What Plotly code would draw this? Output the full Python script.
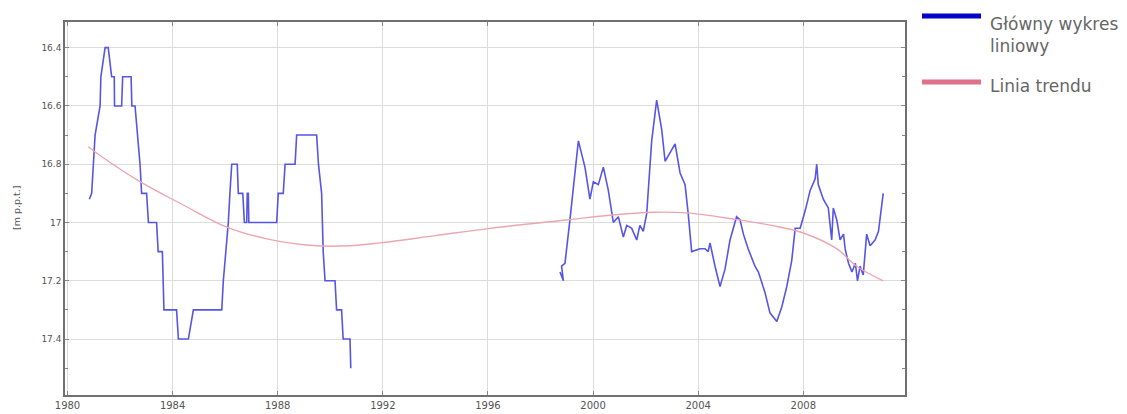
import plotly.graph_objects as go

# ---- data ----
years_a = [1980.83, 1980.92, 1981.05, 1981.24, 1981.27, 1981.43, 1981.55, 1981.68, 1981.78, 1981.79,
           1982.06, 1982.10, 1982.42, 1982.45, 1982.57, 1982.76, 1982.82, 1983.01, 1983.08, 1983.39,
           1983.45, 1983.61, 1983.67, 1984.15, 1984.22, 1984.60, 1984.79, 1985.87, 1985.93, 1986.03,
           1986.12, 1986.18, 1986.25, 1986.46, 1986.50, 1986.67, 1986.73, 1986.82, 1986.84, 1986.88,
           1986.90, 1987.96, 1988.02, 1988.21, 1988.28, 1988.66, 1988.72, 1989.48, 1989.55, 1989.67,
           1989.73, 1989.80, 1990.18, 1990.24, 1990.43, 1990.49, 1990.75, 1990.78]
level_a = [16.92, 16.90, 16.70, 16.60, 16.50, 16.40, 16.40, 16.50, 16.50, 16.60,
           16.60, 16.50, 16.50, 16.60, 16.60, 16.80, 16.90, 16.90, 17.00, 17.00,
           17.10, 17.10, 17.30, 17.30, 17.40, 17.40, 17.30, 17.30, 17.20, 17.10,
           17.00, 16.90, 16.80, 16.80, 16.90, 16.90, 17.00, 17.00, 16.90, 16.90,
           17.00, 17.00, 16.90, 16.90, 16.80, 16.80, 16.70, 16.70, 16.80, 16.90,
           17.10, 17.20, 17.20, 17.30, 17.30, 17.40, 17.40, 17.50]

years_b = [1998.74, 1998.87, 1998.80, 1998.93, 1999.12, 1999.25, 1999.44, 1999.69, 1999.88, 2000.01,
           2000.20, 2000.39, 2000.58, 2000.77, 2000.96, 2001.15, 2001.28, 2001.47, 2001.66, 2001.78,
           2001.91, 2002.04, 2002.23, 2002.42, 2002.61, 2002.74, 2002.93, 2003.12, 2003.31, 2003.50,
           2003.62, 2003.75, 2004.07, 2004.26, 2004.38, 2004.45, 2004.64, 2004.83, 2005.02, 2005.21,
           2005.46, 2005.59, 2005.72, 2005.90, 2006.16, 2006.29, 2006.54, 2006.73, 2006.99, 2007.18,
           2007.37, 2007.56, 2007.69, 2007.88, 2008.07, 2008.26, 2008.45, 2008.51, 2008.57, 2008.76,
           2008.95, 2009.08, 2009.14, 2009.27, 2009.40, 2009.53, 2009.59, 2009.72, 2009.85, 2009.98,
           2010.06, 2010.16, 2010.28, 2010.41, 2010.54, 2010.73, 2010.86, 2010.92, 2011.04]
level_b = [17.17, 17.20, 17.15, 17.14, 16.99, 16.87, 16.72, 16.81, 16.92, 16.86,
           16.87, 16.81, 16.89, 17.00, 16.98, 17.05, 17.01, 17.02, 17.06, 17.01,
           17.03, 16.97, 16.72, 16.58, 16.68, 16.79, 16.76, 16.73, 16.83, 16.87,
           16.97, 17.10, 17.09, 17.09, 17.10, 17.07, 17.15, 17.22, 17.16, 17.06,
           16.98, 16.99, 17.04, 17.09, 17.15, 17.17, 17.24, 17.31, 17.34, 17.29,
           17.22, 17.13, 17.02, 17.02, 16.96, 16.89, 16.85, 16.80, 16.87, 16.92,
           16.95, 17.06, 16.95, 16.99, 17.06, 17.04, 17.09, 17.14, 17.17, 17.14,
           17.20, 17.15, 17.18, 17.04, 17.08, 17.06, 17.03, 16.99, 16.90]

trend_years = [1980.79, 1981.24, 1982.76, 1984.41, 1986.06, 1987.58, 1989.48, 1990.75, 1991.89,
               1994.00, 1996.08, 1999.12, 2000.64, 2002.29, 2003.56, 2005.46, 2006.80, 2008.00,
               2009.27, 2010.03, 2011.04]
trend_level = [16.74, 16.77, 16.86, 16.94, 17.016, 17.056, 17.08, 17.08, 17.07,
               17.045, 17.02, 16.99, 16.975, 16.965, 16.967, 16.99, 17.01, 17.036,
               17.09, 17.15, 17.20]

x_ticks = [1980, 1984, 1988, 1992, 1996, 2000, 2004, 2008]
y_ticks = [16.4, 16.6, 16.8, 17.0, 17.2, 17.4]
y_tick_text = ["16.4", "16.6", "16.8", "17", "17.2", "17.4"]
y_minor = [16.5, 16.7, 16.9, 17.1, 17.3, 17.5]

legend_names = ["Główny wykres<br>liniowy", "Linia trendu"]
y_title = "[m p.p.t.]"

FONT = "DejaVu Sans, Verdana, sans-serif"

# ---- figure ----
fig = go.Figure()
fig.add_trace(go.Scatter(
    x=years_a + [None] + years_b, y=level_a + [None] + level_b,
    mode="lines", line=dict(color="#5656e4", width=1.6),
    connectgaps=False, showlegend=False, hoverinfo="skip"))
fig.add_trace(go.Scatter(
    x=trend_years, y=trend_level, mode="lines", line_shape="spline",
    line=dict(color="#eca6b0", width=1.4), showlegend=False, hoverinfo="skip"))

axis_common = dict(showline=True, linecolor="#707070", linewidth=1.5, mirror="ticks",
                   ticks="inside", ticklen=4, tickcolor="#888", zeroline=False,
                   showgrid=True, gridcolor="#dcdcdc", gridwidth=1, automargin=False)

fig.update_xaxes(range=[1979.905, 2011.869], tickvals=x_ticks,
                 ticktext=[str(v) for v in x_ticks],
                 tickfont=dict(family=FONT, size=10, color="#555"), **axis_common)
fig.update_yaxes(range=[17.592, 16.312], tickvals=y_ticks, ticktext=y_tick_text,
                 minor=dict(tickvals=y_minor, ticks="inside", ticklen=3, tickcolor="#888",
                            showgrid=False),
                 tickfont=dict(family=FONT, size=9, color="#555"), **axis_common)

# manual legend and axis title (paper coordinates)
W, H = 1127, 414
L, R, T, B = 65, 222, 22, 19
pw, ph = W - L - R, H - T - B
def px_to_paper_x(px):
    return (px - L) / pw
def py_to_paper_y(py):
    return 1 - (py - T) / ph

fig.add_annotation(xref="paper", yref="paper", x=px_to_paper_x(16), y=py_to_paper_y(208),
                   text=y_title, textangle=-90, showarrow=False, xanchor="center", yanchor="middle",
                   font=dict(family=FONT, size=9.5, color="#555"))

legend_colors = ["#0000c8", "#e0708c"]
legend_rows = [16, 82]
text_rows = [35, 86]
for name, col, ly, ty in zip(legend_names, legend_colors, legend_rows, text_rows):
    fig.add_shape(type="line", xref="paper", yref="paper",
                  x0=px_to_paper_x(922), x1=px_to_paper_x(981),
                  y0=py_to_paper_y(ly), y1=py_to_paper_y(ly),
                  line=dict(color=col, width=5))
    fig.add_annotation(xref="paper", yref="paper", x=px_to_paper_x(988), y=py_to_paper_y(ty),
                       text=name, showarrow=False, xanchor="left", yanchor="middle", align="left",
                       font=dict(family=FONT, size=17, color="#666"))

fig.update_layout(width=W, height=H, margin=dict(l=L, r=R, t=T, b=B),
                  plot_bgcolor="white", paper_bgcolor="white", showlegend=False)

fig.write_html("out.html", config={"displayModeBar": False},
               post_script="document.body.style.margin='0';document.body.style.overflow='hidden';")
